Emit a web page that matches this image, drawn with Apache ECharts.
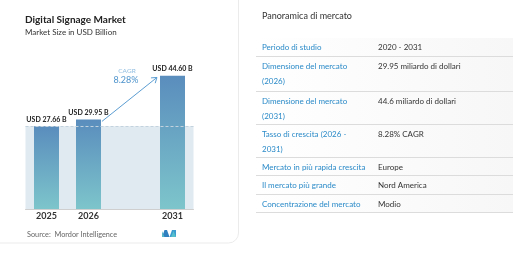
<!DOCTYPE html>
<html><head><meta charset="utf-8">
<script src="https://cdn.jsdelivr.net/npm/echarts@6/dist/echarts.min.js"></script>
<style>html,body{margin:0;padding:0;background:#fff;}#c{width:531px;height:254px;}</style>
</head><body><div id="c"></div>
<script>
// ---- data ----
var years = ['2025', '2026', '', '2031'];
var values = [27.66, 29.95, null, 44.60];
var valueLabels = ['USD 27.66 B', 'USD 29.95 B', '', 'USD 44.60 B'];
var baseValue = 27.66;
var cagrText = '8.28%';
var cagrArrow = [[1.32, 29.3], [2.63, 44.0]];
var title = 'Digital Signage Market';
var subtitle = 'Market Size in USD Billion';
var source = 'Source:  Mordor Intelligence';
var panelTitle = 'Panoramica di mercato';
var rowLabels = [['Periodo di studio'], ['Dimensione del mercato', '(2026)'], ['Dimensione del mercato', '(2031)'], ['Tasso di crescita (2026 -', '2031)'], ['Mercato in più rapida crescita'], ['Il mercato più grande'], ['Concentrazione del mercato']];
var rowValues = ['2020 - 2031', '29.95 miliardo di dollari', '44.6 miliardo di dollari', '8.28% CAGR', 'Europe', 'Nord America', 'Modio'];

var FONT = 'Lato, "Open Sans", sans-serif';
var chart = echarts.init(document.getElementById('c'), null, {renderer: 'canvas'});

// table layout
var rowTops = [38, 56, 91, 124, 157, 175, 194];
var rowBottoms = [56, 91, 124, 157, 175, 194, 212];
var graphics = [];
graphics.push({type: 'rect', z: -10, shape: {x: -12, y: -12, width: 250.5, height: 255, r: 10}, style: {fill: '#fff', stroke: '#ebebeb', lineWidth: 1}});
graphics.push({type: 'rect', z: -10, shape: {x: 256, y: 38, width: 257, height: 174}, style: {fill: new echarts.graphic.LinearGradient(0, 0, 1, 0, [{offset: 0, color: 'rgba(255,255,255,1)'}, {offset: 0.5, color: 'rgba(251,251,251,1)'}, {offset: 1, color: 'rgba(247,247,247,1)'}])}});
graphics.push({type: 'text', left: 25, top: 15, style: {text: title, font: 'bold 10px ' + FONT, fill: '#222'}});
graphics.push({type: 'text', left: 25, top: 28, style: {text: subtitle, font: '8px ' + FONT, fill: '#333'}});
graphics.push({type: 'text', left: 27, top: 231, style: {text: source, font: '7.3px ' + FONT, fill: '#666'}});
graphics.push({type: 'text', style: {x: 127, y: 71, text: 'CAGR', font: '6.5px ' + FONT, fill: '#8fbce0', textAlign: 'center', textVerticalAlign: 'middle'}});
graphics.push({type: 'text', style: {x: 126, y: 80, text: cagrText, font: '9px ' + FONT, fill: '#4d93cc', textAlign: 'center', textVerticalAlign: 'middle'}});
// logo
graphics.push({type: 'polygon', shape: {points: [[162, 237], [164.5, 230], [167, 230], [169.5, 237]]}, style: {fill: '#2f7fbf'}});
graphics.push({type: 'polygon', shape: {points: [[162, 237], [162, 231], [164.5, 237]]}, style: {fill: '#56b8c9'}});
graphics.push({type: 'polygon', shape: {points: [[169.5, 237], [172, 230], [176, 230], [176, 237]]}, style: {fill: '#3a9bd0'}});
graphics.push({type: 'polygon', shape: {points: [[171, 237], [173.5, 231], [176, 237]]}, style: {fill: '#56c0cc'}});
// right panel
graphics.push({type: 'text', left: 262, top: 12, style: {text: panelTitle, font: '9px ' + FONT, fill: '#333'}});
for (var i = 0; i < rowLabels.length; i++) {
  var lines = rowLabels[i];
  var y0 = rowTops[i] + (i === 0 ? 5 : 6);
  for (var k = 0; k < lines.length; k++) {
    graphics.push({type: 'text', left: 262, top: y0 + k * 15, style: {text: lines[k], font: '8px ' + FONT, fill: '#2a8ac8'}});
  }
  graphics.push({type: 'text', left: 378, top: y0, style: {text: rowValues[i], font: '8px ' + FONT, fill: '#333'}});
  graphics.push({type: 'line', shape: {x1: 256, y1: rowBottoms[i] + 0.5, x2: 513, y2: rowBottoms[i] + 0.5}, style: {stroke: '#dcdcdc', lineWidth: 1}});
}

var barColor = new echarts.graphic.LinearGradient(0, 0, 0, 1, [{offset: 0, color: '#5a8dbd'}, {offset: 1, color: '#7dc5cb'}]);

chart.setOption({
  animation: false,
  grid: {left: 25.5, right: 337.5, top: 59.5, bottom: 45},
  xAxis: [{
    type: 'category', data: years,
    axisLine: {lineStyle: {color: '#cfcfcf', width: 1}},
    axisTick: {show: false},
    axisLabel: {color: '#333', fontSize: 9, fontFamily: FONT, fontWeight: 'bold', margin: 3}
  }, {
    type: 'value', min: -0.5, max: 3.5, show: false
  }],
  yAxis: {type: 'value', min: 0, max: 50, show: false},
  graphic: graphics,
  series: [{
    type: 'bar', data: values, barWidth: 25, xAxisIndex: 0,
    itemStyle: {color: barColor},
    label: {show: true, position: 'top', distance: 3, formatter: function (p) { return valueLabels[p.dataIndex]; }, color: '#222', fontSize: 7, fontWeight: 'bold', fontFamily: FONT},
    z: 3,
    markArea: {silent: true, itemStyle: {color: '#e0eaf1'}, data: [[{xAxis: years[0], yAxis: 0}, {xAxis: years[3], yAxis: baseValue}]]},
    markLine: {silent: true, symbol: 'none', label: {show: false}, lineStyle: {color: '#c3d2de', type: [3, 2], width: 1}, data: [{yAxis: baseValue}]}
  }, {
    type: 'custom', xAxisIndex: 1, yAxisIndex: 0, z: 5,
    data: [cagrArrow[0].concat(cagrArrow[1])],
    renderItem: function (params, api) {
      var p1 = api.coord([api.value(0), api.value(1)]);
      var p2 = api.coord([api.value(2), api.value(3)]);
      var ang = Math.atan2(p2[1] - p1[1], p2[0] - p1[0]);
      var L = 6, a = 0.6;
      var h1 = [p2[0] - L * Math.cos(ang - a), p2[1] - L * Math.sin(ang - a)];
      var h2 = [p2[0] - L * Math.cos(ang + a), p2[1] - L * Math.sin(ang + a)];
      return {type: 'group', children: [
        {type: 'line', shape: {x1: p1[0], y1: p1[1], x2: p2[0], y2: p2[1]}, style: {stroke: '#5b9dd2', lineWidth: 1}},
        {type: 'polyline', shape: {points: [h1, p2, h2]}, style: {stroke: '#5b9dd2', lineWidth: 1, fill: null}}
      ]};
    }
  }]
});
</script></body></html>
